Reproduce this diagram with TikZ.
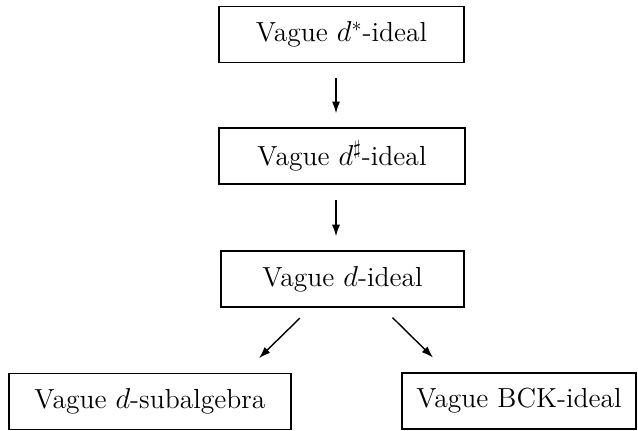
\documentclass[tikz,border=0pt]{standalone}
\usetikzlibrary{arrows.meta, positioning, calc}

\begin{document}
\begin{tikzpicture}[
x=0.5pt, y=-0.5pt,
font=\fontsize{13.8}{16}\selectfont,
>={Latex[length=5.8pt, width=4pt]},
ideal/.style={
rectangle,
draw, line width=0.7pt,
align=center,
minimum height=28pt,
inner sep=0pt
},
arrow/.style={->, line width=0.7pt}
]
\useasboundingbox (0,0) rectangle (638,430);

\node[ideal, minimum width=122.5pt] (starIdeal) at (341.5,34.5) {Vague $d^*$-ideal};
\node[ideal, minimum width=123pt] (sharpIdeal) at (342,156) {Vague $d^\sharp$-ideal};
\node[ideal, minimum width=121.5pt] (dIdeal) at (342.5,279) {Vague $d$-ideal};

\node[ideal, minimum width=141pt] (dSub) at (150,401.5) {Vague $d$-subalgebra};
\node[ideal, minimum width=117pt] (bckIdeal) at (519,401) {Vague BCK-ideal};

\draw[arrow, shorten <=7.5pt, shorten >=7pt]
([xshift=-2.75pt]starIdeal.south) -- ([xshift=-3pt]sharpIdeal.north);
\draw[arrow, shorten <=7.5pt, shorten >=7pt]
([xshift=-3pt]sharpIdeal.south) -- ([xshift=-3.25pt]dIdeal.north);

\draw[arrow, shorten <=7.5pt, shorten >=10.5pt]
([xshift=-16pt]dIdeal.south) -- ([xshift=47pt]dSub.north);
\draw[arrow, shorten <=7pt, shorten >=10.5pt]
([xshift=20pt]dIdeal.south) -- ([xshift=-35.5pt]bckIdeal.north);

\end{tikzpicture}
\end{document}
